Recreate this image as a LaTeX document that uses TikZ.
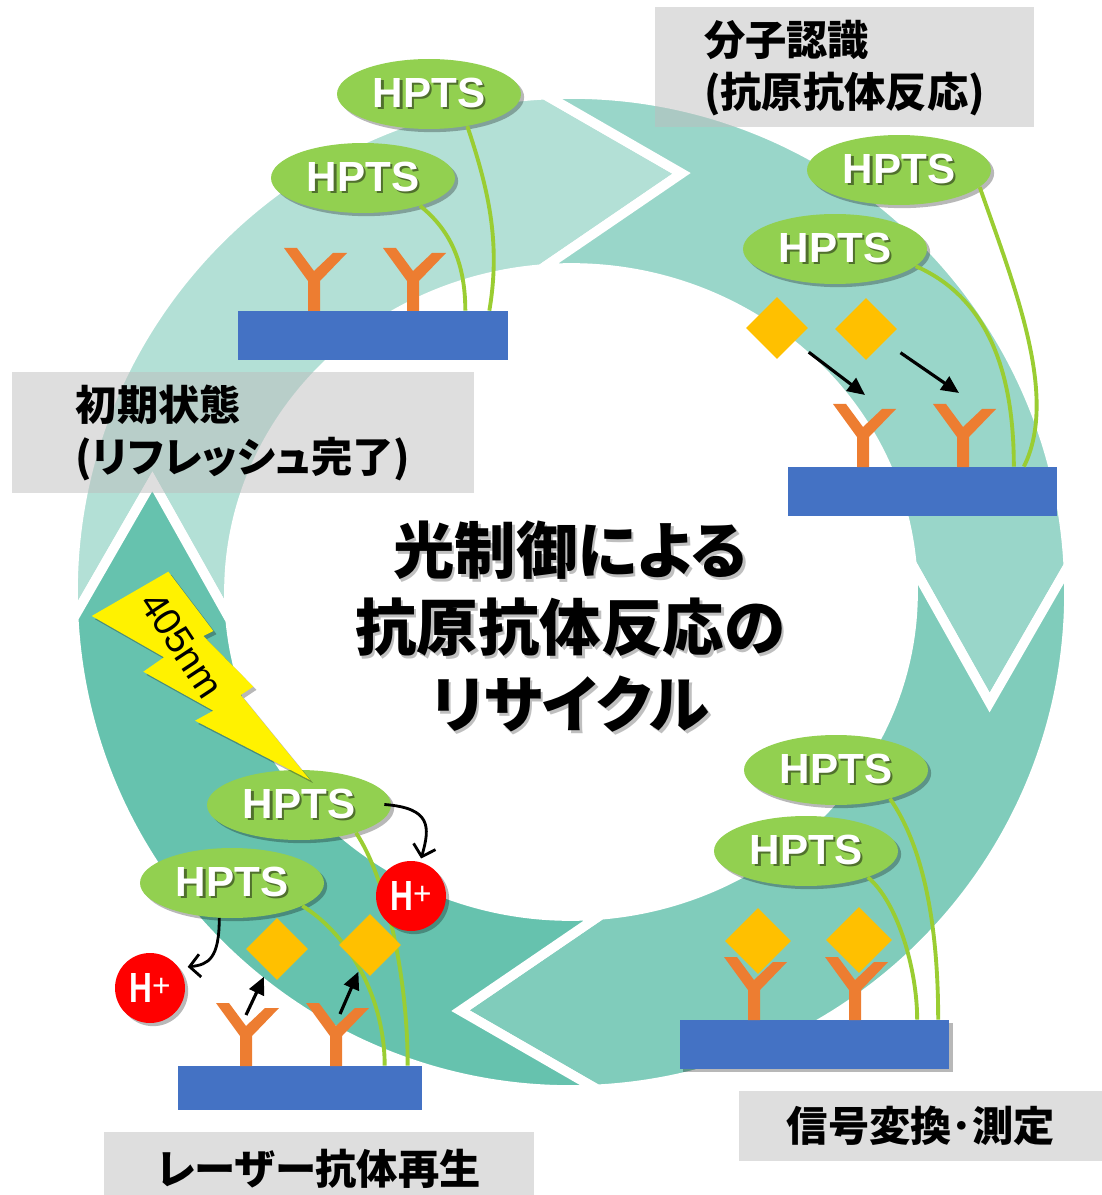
\documentclass[tikz,border=0pt]{standalone}
\usepackage{graphicx}
\usepackage{fontspec}
\setmainfont{Liberation Sans}
\newfontfamily\jpfont{Noto Sans CJK JP}[RawFeature=+palt]
\usetikzlibrary{calc,shapes.geometric,arrows.meta,shadows}

\definecolor{ringA}{HTML}{B3E0D6}
\definecolor{ringB}{HTML}{99D6C9}
\definecolor{ringC}{HTML}{80CCBB}
\definecolor{ringD}{HTML}{66C2AE}
\definecolor{subBlue}{HTML}{4472C4}
\definecolor{abOrange}{HTML}{ED7D31}
\definecolor{agGold}{HTML}{FFC000}
\definecolor{hptsGreen}{HTML}{92D050}
\definecolor{linkGreen}{HTML}{9ACD32}
\definecolor{hptsShade}{RGB}{80,112,45}
\definecolor{boxGray}{RGB}{190,190,190}

\newcommand\txtshadow[1]{\leavevmode\rlap{\kern1.4pt\raisebox{-1.4pt}{\color{hptsShade}#1}}#1}
\newcommand\ttlshadow[1]{\leavevmode\rlap{\kern1.5pt\raisebox{-1.5pt}{\color{black!25}#1}}#1}

\tikzset{
  softshadow/.style={drop shadow={shadow xshift=1.8pt, shadow yshift=-1.8pt, fill=black, opacity=.28}},
  substrate/.style={rectangle, fill=subBlue, inner sep=0pt, minimum width=5.4cm, minimum height=0.98cm},
  hpts/.style={ellipse, fill=hptsGreen, inner sep=0pt, minimum width=3.68cm, minimum height=1.4cm,
    text=white, font=\bfseries\fontsize{24}{28}\selectfont, softshadow},
  antigen/.style={diamond, fill=agGold, inner sep=0pt, minimum width=1.24cm, minimum height=1.24cm},
  proton/.style={circle, fill=red, inner sep=0pt, minimum size=1.4cm, text=white,
    font=\bfseries\fontsize{24}{24}\selectfont, softshadow},
  linker/.style={draw=linkGreen, line width=2.2pt},
  bind/.style={-{Triangle[length=10pt,width=9pt]}, line width=1.8pt},
  release/.style={-{Straight Barb[length=6pt,width=13pt]}, line width=1.6pt},
  stage/.style={rectangle, fill=boxGray, fill opacity=.5, text opacity=1, inner sep=0pt, align=left,
    font=\jpfont\bfseries\fontsize{23.5}{29.6}\selectfont},
  title/.style={align=center, font=\jpfont\bfseries\fontsize{35}{43.8}\selectfont},
  antibody/.pic={\fill[abOrange] (-6,0) -- (-6,-30) -- (-30,-63) -- (-17,-63) -- (0,-40)
    -- (19,-58) -- (33,-58) -- (6,-30) -- (6,0) -- cycle;}
}

\newcommand\hplus{\scalebox{0.75}[1]{H}{\mdseries\fontsize{18}{18}\selectfont\raisebox{0.2em}{+}}}

\begin{document}
\begin{tikzpicture}[x=0.02cm,y=-0.02cm]
\useasboundingbox (0,0) rectangle (1101,1195);

\coordinate (c) at (571,592);
%кольцо из четырёх стрелок
\foreach \o/\col in {0/ringA,90/ringB,180/ringC,270/ringD}
\filldraw[fill=\col, draw=white, line width=5.5pt]
  ($(c)+({\o-183}:498)$) arc[start angle=\o-183, end angle=\o-93, radius=498]
  -- ($(c)+({\o-75.2}:433)$)
  -- ($(c)+({\o-95}:342 and 324)$) arc[start angle=\o-95, end angle=\o-185, x radius=342, y radius=324]
  -- ($(c)+({\o-165.2}:433)$) -- cycle;

%подписи стадий
\node[stage, minimum width=7.58cm, minimum height=2.4cm] (st1) at (844.5,67) {\rule{0pt}{0.9em}分子認識\\(抗原抗体反応)};
\node[stage, minimum width=9.24cm, minimum height=2.42cm] (st2) at (243,432.5) {\rule{0pt}{0.9em}初期状態\\(リフレッシュ完了)};
\node[stage, minimum width=7.28cm, minimum height=1.4cm] (st3) at (921,1126) {信号変換･測定};
\node[stage, minimum width=8.6cm, minimum height=1.46cm] (st4) at (319,1168.5) {レーザー抗体再生};

%заголовок
\node[title] (ttl) at (570,628) {\ttlshadow{光制御による}\\\ttlshadow{抗原抗体反応の}\\\ttlshadow{リサイクル}};

%初期状態
\node[substrate] (s1) at (373,335.5) {};
\pic at (314,311) {antibody};
\pic at (413,311) {antibody};
\node[hpts] (hp1a) at (429,94) {\txtshadow{HPTS}};
\node[hpts] (hp1b) at (363,178) {\txtshadow{HPTS}};
\draw[linker] (hp1a.-40) .. controls +(20,60) and +(12,-70) .. ($(s1.north east)+(-19,0)$);
\draw[linker] (hp1b.-26) .. controls +(25,20) and +(0,-55) .. ($(s1.north east)+(-43,0)$);

%分子認識
\node[substrate] (s2) at (922.5,491.5) {};
\pic at (863,467) {antibody};
\pic at (963,467) {antibody};
\node[antigen] (ag2a) at (777,328) {};
\node[antigen] (ag2b) at (866,329) {};
\coordinate (t2a) at (865,395);
\coordinate (t2b) at (959,393);
\draw[bind, shorten <=10pt] (ag2a) -- (t2a);
\draw[bind, shorten <=11pt] (ag2b) -- (t2b);
\node[hpts] (hp2a) at (899,170) {\txtshadow{HPTS}};
\node[hpts] (hp2b) at (835,249) {\txtshadow{HPTS}};
\draw[linker] (hp2a.-12) .. controls +(35,100) and +(35,-70) .. ($(s2.north east)+(-34,0)$);
\draw[linker] (hp2b.-12) .. controls +(80,35) and +(0,-80) .. ($(s2.north east)+(-44,0)$);

%信号変換
\node[substrate, softshadow] (s3) at (814.5,1044.5) {};
\pic at (754,1020) {antibody};
\pic at (855,1020) {antibody};
\node[antigen, minimum width=1.32cm, minimum height=1.32cm] (ag3a) at (758,941) {};
\node[antigen, minimum width=1.32cm, minimum height=1.32cm] (ag3b) at (859,940) {};
\node[hpts] (hp3a) at (836,770) {\txtshadow{HPTS}};
\node[hpts] (hp3b) at (806,851) {\txtshadow{HPTS}};
\draw[linker] (hp3a.-28) .. controls +(35,50) and +(0,-90) .. ($(s3.north west)+(259,0)$);
\draw[linker] (hp3b.-23) .. controls +(30,25) and +(0,-50) .. ($(s3.north west)+(238,0)$);

%レーザー抗体再生
\node[substrate, minimum width=4.88cm, minimum height=0.88cm] (s4) at (300,1088) {};
\pic at (246,1066) {antibody};
\pic at (336,1066) {antibody};
\node[hpts] (hp4a) at (299,805) {\txtshadow{HPTS}};
\node[hpts] (hp4b) at (232,883) {\txtshadow{HPTS}};
\draw[linker] (hp4a.-26) .. controls +(30,45) and +(0,-90) .. ($(s4.north west)+(230,0)$);
\draw[linker] (hp4b.-18) .. controls +(45,28) and +(0,-70) .. ($(s4.north west)+(207,0)$);
\node[antigen] (ag4a) at (277,949) {};
\node[antigen] (ag4b) at (370,945) {};
\coordinate (u4a) at (246,1015);
\coordinate (u4b) at (340,1014);
\draw[bind, shorten >=4pt] (u4a) -- (ag4a);
\draw[bind, shorten >=3pt] (u4b) -- (ag4b);
\node[proton] (hplus1) at (411,896) {\hplus};
\node[proton] (hplus2) at (150,988) {\hplus};
\draw[release, shorten <=-4pt, shorten >=2pt] (hp4a.east) .. controls +(40,3) and +(10,-35) .. (hplus1.75);
\draw[release, shorten >=5pt] (hp4b.-110) .. controls +(0,40) and +(30,-3) .. (hplus2.35);

%молния 405 нм
\fill[yellow, softshadow]
  (91.7,616) -- (168.3,571.7) -- (213.3,631) -- (203.3,636) -- (253.3,686.7) -- (240.7,695)
  -- (310,780) -- (195,720.7) -- (213.3,710.7) -- (143.3,671.7) -- (164,657.3) -- cycle;
\node[rotate=-56.5, font=\fontsize{22}{22}\selectfont] (lam) at (182,645) {405nm};
\end{tikzpicture}
\end{document}
